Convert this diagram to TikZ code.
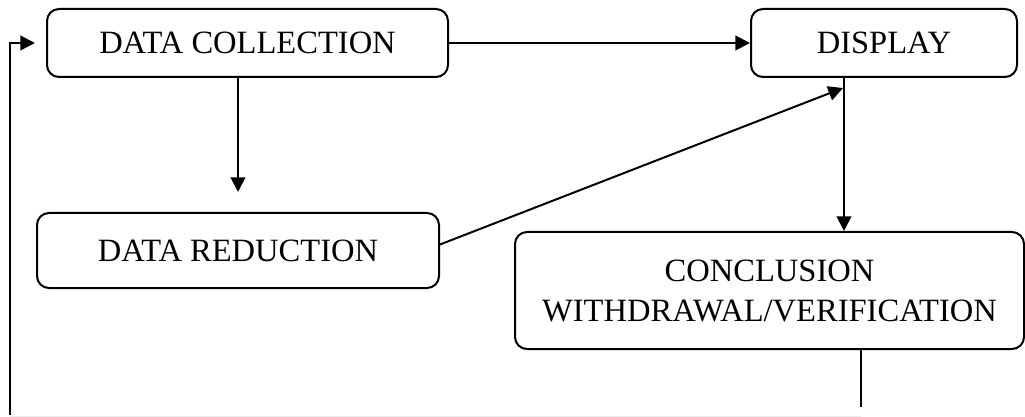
\documentclass[tikz,border=0pt]{standalone}
\usepackage{fontspec}
\setmainfont{Liberation Serif}
\usetikzlibrary{arrows.meta}

\tikzset{
  stagebox/.style={draw, line width=1.5pt, rounded corners=9pt, inner sep=0pt, align=center, font=\fontsize{24.4}{30}\selectfont},
  flowarrow/.style={line width=1.5pt, -{Triangle[length=11pt,width=11pt]}},
  flowline/.style={line width=0.9pt}
}

\begin{document}
\begin{tikzpicture}[x=0.75pt,y=0.75pt,yscale=-1]
%set diagram size
\useasboundingbox (0,0) rectangle (1025,417);

%Shape: Rounded Rect [id:collection]
\node[stagebox, minimum width=300.75pt, minimum height=51pt] (coll) at (247.5,43) {DATA COLLECTION};
%Shape: Rounded Rect [id:display]
\node[stagebox, minimum width=199.5pt, minimum height=51pt] (disp) at (884,43) {DISPLAY};
%Shape: Rounded Rect [id:reduction]
\node[stagebox, minimum width=301.5pt, minimum height=56.25pt] (red) at (238,250.5) {DATA REDUCTION};
%Shape: Rounded Rect [id:conclusion]
\node[stagebox, minimum width=381.75pt, minimum height=87.75pt] (concl) at (769.5,290.5) {CONCLUSION\\WITHDRAWAL/VERIFICATION};

\coordinate (dsplit) at (844,77);
\coordinate (dtip) at (843,88);
\coordinate (cend) at (861,407);
\coordinate (fb) at (10,415);

%Straight Lines
\draw[flowarrow] (coll.east) -- (disp.west);
\draw[flowarrow, shorten >=15pt] (coll.south -| red.north) -- (red.north);
\draw[flowarrow] ([yshift=-4.5pt]red.east) -- (dtip);
\draw[flowarrow] (dsplit) -- (dsplit |- concl.north);
\draw[flowline] (concl.south -| cend) -- (cend);
\draw[flowarrow, shorten >=8.25pt] (fb) |- (coll.west);
\draw[gray!15, line width=0.75pt] (fb |- 0,416.5) -- (cend |- 0,416.5);

\end{tikzpicture}
\end{document}
